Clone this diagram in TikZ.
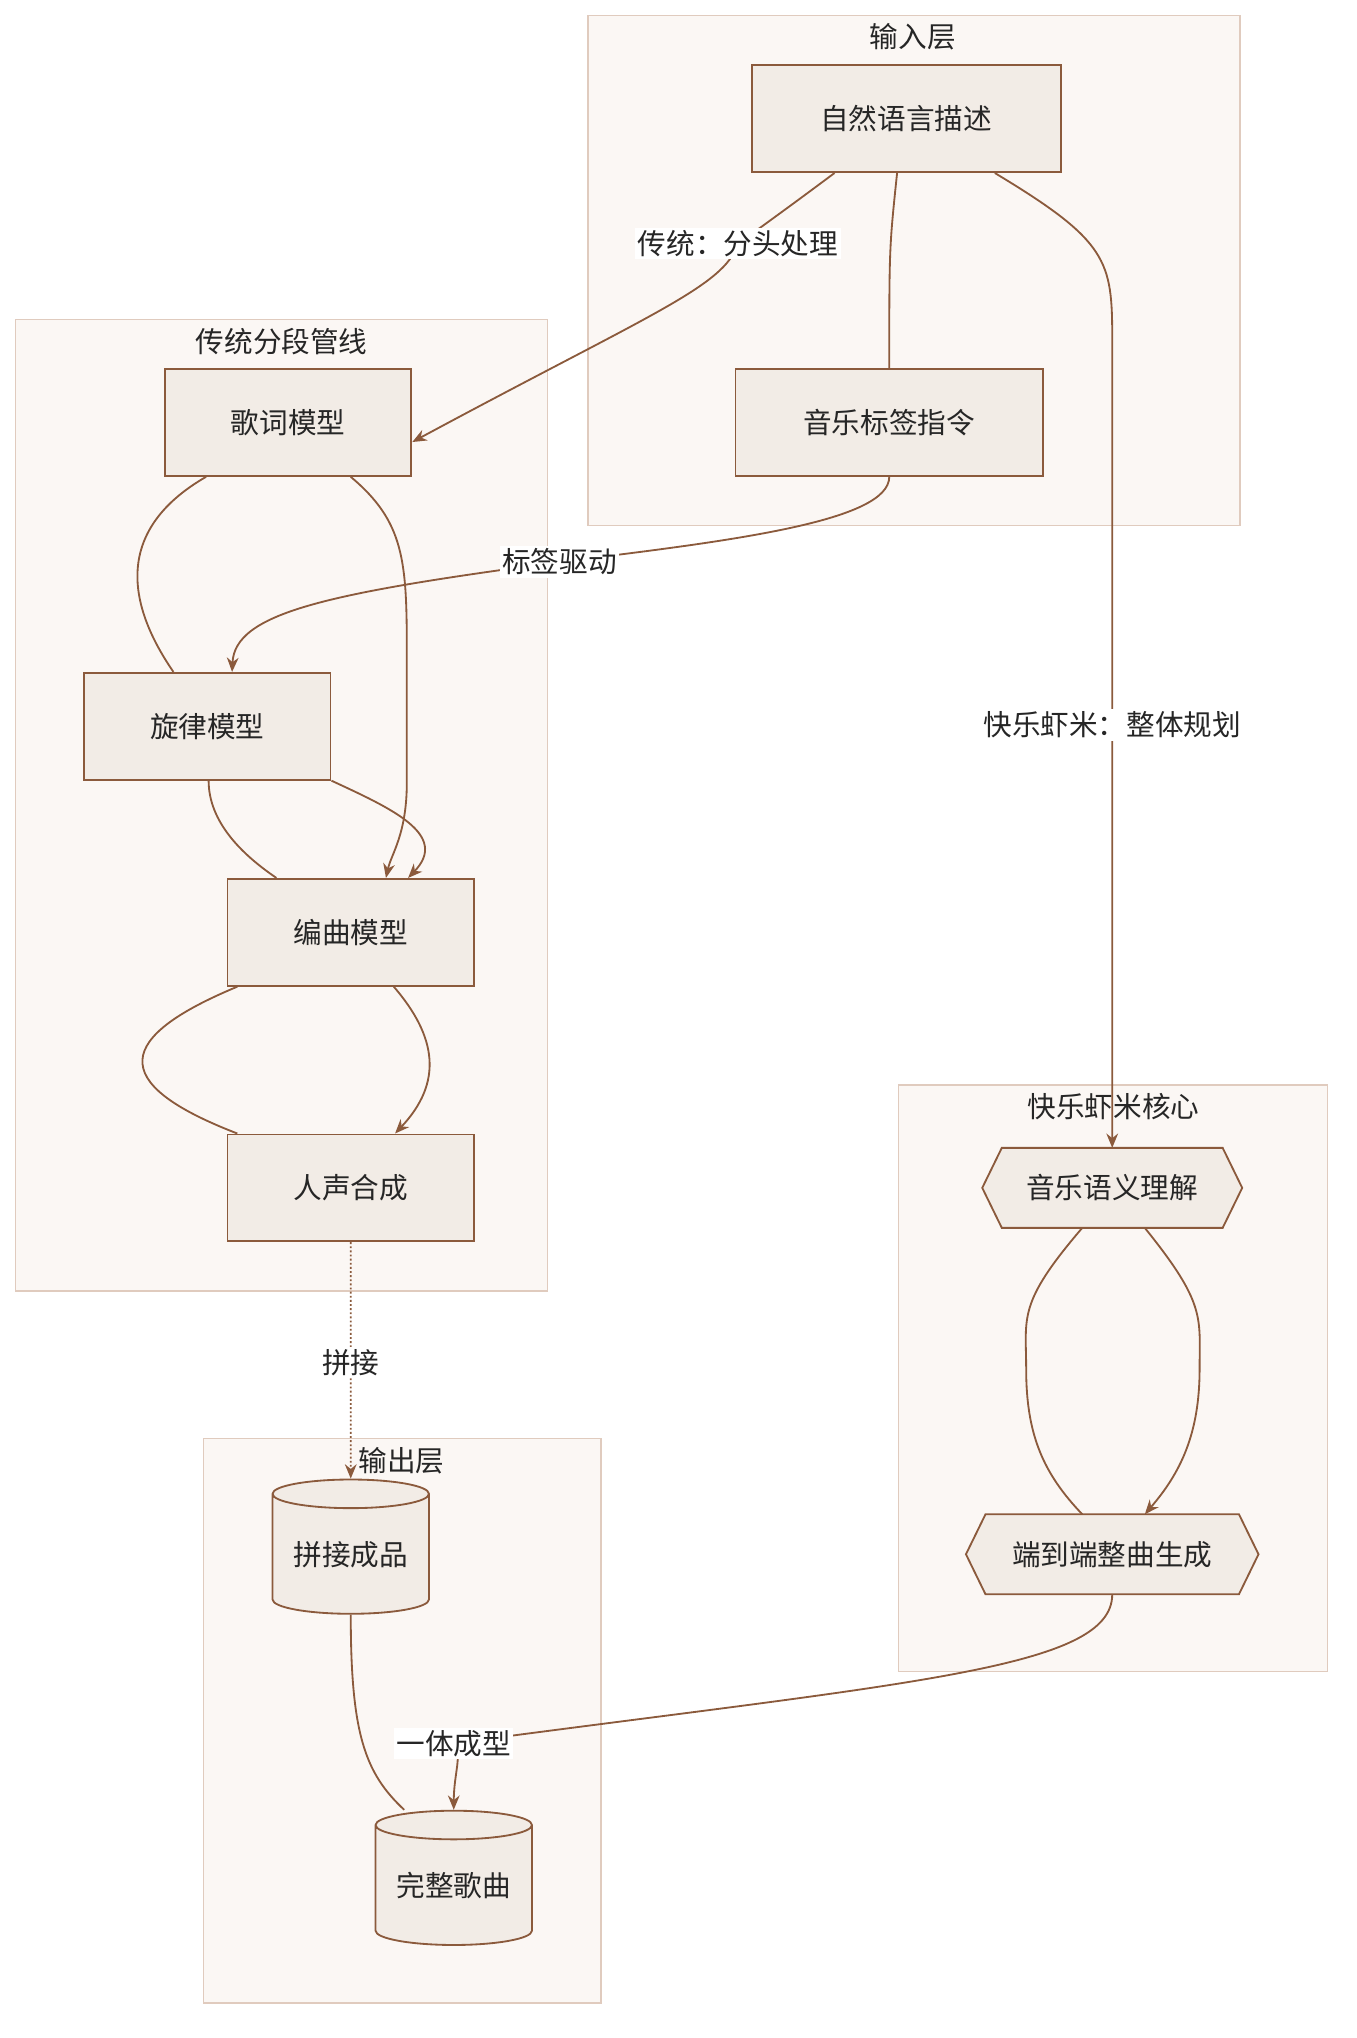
\documentclass[tikz,border=0pt]{standalone}
\usepackage{fontspec}
\setmainfont{Noto Sans CJK SC}
\usetikzlibrary{arrows.meta,shapes.geometric}
\definecolor{edge}{HTML}{8B5A3C}
\definecolor{boxfill}{HTML}{F2ECE6}
\definecolor{grpfill}{HTML}{FBF7F4}
\definecolor{grpline}{HTML}{E0CBBE}

\begin{document}
\begin{tikzpicture}[x=0.02cm, y=-0.02cm, line width=0.8pt,
    every node/.style={font=\fontsize{12.5}{15}\selectfont, text=black!85},
    grp/.style={draw=grpline, fill=grpfill, line width=0.6pt},
    main/.style={draw=edge, fill=boxfill, minimum width=3.78cm, minimum height=1.64cm, inner sep=0pt},
    hexa/.style={minimum height=1.2cm, inner sep=0pt},
    db/.style={cylinder, shape border rotate=90, aspect=0.25, draw=edge, fill=boxfill, minimum width=2.4cm, minimum height=2.06cm, inner sep=0pt},
    lbl/.style={fill=white, inner sep=1pt},
    link/.style={draw=edge},
    arr/.style={draw=edge, -{Stealth[length=0.22cm, width=0.18cm]}}]
    \useasboundingbox (0,0) rectangle (1040,1563);

    % groups
    \draw[grp] (451,12) rectangle (951,403);
    \draw[grp] (12,245) rectangle (420,990);
    \draw[grp] (689,832) rectangle (1018,1282);
    \draw[grp] (156,1103) rectangle (461,1536);
    \node (gIn) at (700,28) {输入层};
    \node (gTrad) at (216,262) {传统分段管线};
    \node (gCore) at (854,849) {快乐虾米核心};
    \node (gOut) at (308,1120) {输出层};

    % nodes
    \node[main, minimum width=4.74cm] (desc) at (695,91) {自然语言描述};
    \node[main, minimum width=4.72cm] (tag) at (682,324) {音乐标签指令};
    \node[main] (lyric) at (221,324) {歌词模型};
    \node[main] (melody) at (159,557) {旋律模型};
    \node[main] (arrange) at (269,715) {编曲模型};
    \node[main] (voice) at (269,911) {人声合成};
    \node[hexa, minimum width=3.96cm] (sem) at (853,911) {音乐语义理解};
    \node[hexa, minimum width=4.46cm] (gen) at (853,1192) {端到端整曲生成};
    \draw[edge, fill=boxfill] (sem.west) -- ([xshift=0.3cm]sem.north west) -- ([xshift=-0.3cm]sem.north east) -- (sem.east) -- ([xshift=-0.3cm]sem.south east) -- ([xshift=0.3cm]sem.south west) -- cycle;
    \draw[edge, fill=boxfill] (gen.west) -- ([xshift=0.3cm]gen.north west) -- ([xshift=-0.3cm]gen.north east) -- (gen.east) -- ([xshift=-0.3cm]gen.south east) -- ([xshift=0.3cm]gen.south west) -- cycle;
    \node[hexa] at (sem) {音乐语义理解};
    \node[hexa] at (gen) {端到端整曲生成};
    \node[db] (concat) at (269,1192) {拼接成品};
    \node[db] (song) at (348,1446) {完整歌曲};

    \coordinate (l1) at (566,187);
    \coordinate (l2) at (429,431);
    \coordinate (l3) at (853,556);
    \coordinate (l4) at (269,1045);
    \coordinate (l5) at (348,1337);

    % edges
    \draw[arr] ([xshift=-1.1cm]desc.south) .. controls (610,155) .. (l1) .. controls (555,220) and (500,240) .. ([yshift=-0.3cm]lyric.east);
    \draw[link] ([xshift=-0.14cm]desc.south) .. controls (682,190) .. (tag.north);
    \draw[arr] ([xshift=1.36cm]desc.south) .. controls (850,185) and (853,200) .. (853,260) -- (l3) -- (sem.north);
    \draw[arr] (tag.south) .. controls (682,400) and (560,415) .. (l2) .. controls (250,455) and (180,470) .. ([xshift=0.38cm]melody.north);
    \draw[link] ([xshift=-1.26cm]lyric.south) .. controls (90,405) and (95,460) .. ([xshift=-0.52cm]melody.north);
    \draw[arr] ([xshift=0.96cm]lyric.south) .. controls (310,400) and (312,430) .. (312,500) -- (312,600) .. controls (312,640) and (300,655) .. ([xshift=0.54cm]arrange.north);
    \draw[link] ([xshift=0.02cm]melody.south) .. controls (160,630) and (185,655) .. ([xshift=-1.14cm]arrange.north);
    \draw[arr] (melody.south east) .. controls (300,620) and (345,640) .. ([xshift=0.88cm]arrange.north);
    \draw[link] ([xshift=-1.74cm]arrange.south) .. controls (90,795) and (80,830) .. ([xshift=-1.74cm]voice.north);
    \draw[arr] ([xshift=0.66cm]arrange.south) .. controls (335,795) and (340,830) .. ([xshift=0.68cm]voice.north);
    \draw[arr, densely dotted] (voice.south) -- (l4) -- (concat.north);
    \draw[link] ([xshift=-0.46cm]sem.south) .. controls (780,1000) and (787,1010) .. (787,1050) .. controls (787,1100) and (800,1130) .. ([xshift=-0.46cm]gen.north);
    \draw[arr] ([xshift=0.5cm]sem.south) .. controls (925,1000) and (920,1010) .. (920,1050) .. controls (920,1100) and (905,1130) .. ([xshift=0.5cm]gen.north);
    \draw[arr] (gen.south) .. controls (853,1280) and (700,1290) .. (l5) .. controls (355,1345) and (348,1360) .. (song.north);
    \draw[link] (concat.south) .. controls (269,1330) and (280,1360) .. ([xshift=-0.76cm]song.north);

    % labels
    \node[lbl] at (l1) {传统：分头处理};
    \node[lbl] at (l2) {标签驱动};
    \node[lbl] at (l3) {快乐虾米：整体规划};
    \node[lbl] at (l4) {拼接};
    \node[lbl] at (l5) {一体成型};
\end{tikzpicture}
\end{document}
